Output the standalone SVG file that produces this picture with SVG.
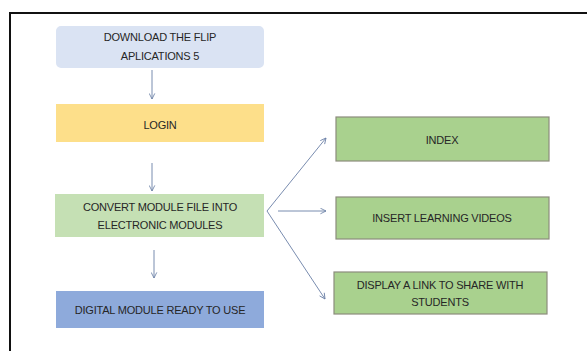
<svg xmlns="http://www.w3.org/2000/svg" width="587" height="351" viewBox="0 0 587 351">
<style>
text{font-family:"Liberation Sans",Arial,sans-serif;font-size:11px;fill:#262626;text-anchor:middle;letter-spacing:-0.2px}
.left{stroke:#ffffff;stroke-width:2}
.right{fill:#a9d18e;stroke:#8c8c7c;stroke-width:1.2}
.c{stroke:#6a7fa6;stroke-width:0.9;fill:none;marker-end:url(#ah)}
</style>
<defs>
<marker id="ah" viewBox="0 0 10 10" refX="9" refY="5" markerWidth="7" markerHeight="7" orient="auto" markerUnits="userSpaceOnUse">
<path d="M1,1 L9,5 L1,9" fill="none" stroke="#6a7fa6" stroke-width="1.2"/>
</marker>
</defs>
<rect width="587" height="351" fill="#fff"/>
<path d="M10,351 V13 H587" fill="none" stroke="#111" stroke-width="2"/>
<g id="download"><rect class="left" x="55" y="25" width="210" height="44" rx="6" fill="#dae3f3"/><text x="160" y="41">DOWNLOAD THE FLIP</text><text x="160" y="60">APLICATIONS 5</text></g>
<g id="login"><rect class="left" x="55" y="103" width="210" height="40" fill="#fddf8a"/><text x="160" y="129">LOGIN</text></g>
<g id="convert"><rect class="left" x="54" y="193" width="211" height="45" fill="#c5e0b4"/><text x="160" y="211">CONVERT MODULE FILE INTO</text><text x="160" y="229">ELECTRONIC MODULES</text></g>
<g id="digital"><rect class="left" x="55" y="290" width="210" height="39" fill="#8eaadb"/><text x="160" y="314">DIGITAL MODULE READY TO USE</text></g>
<g id="index"><rect class="right" x="336" y="117" width="213" height="44"/><text x="442" y="144">INDEX</text></g>
<g id="insert"><rect class="right" x="336" y="197" width="213" height="42"/><text x="442" y="222">INSERT LEARNING VIDEOS</text></g>
<g id="display"><rect class="right" x="334" y="272" width="213" height="42"/><text x="440" y="289">DISPLAY A LINK TO SHARE WITH</text><text x="440" y="306">STUDENTS</text></g>
<g id="connectors">
<line class="c" x1="152" y1="70" x2="152" y2="99"/>
<line class="c" x1="152" y1="163" x2="152" y2="191"/>
<line class="c" x1="154" y1="250" x2="154" y2="278"/>
<line class="c" x1="267" y1="211" x2="326" y2="138"/>
<line class="c" x1="278" y1="211" x2="326" y2="211"/>
<line class="c" x1="267" y1="211" x2="325" y2="299"/>
</g>
</svg>
